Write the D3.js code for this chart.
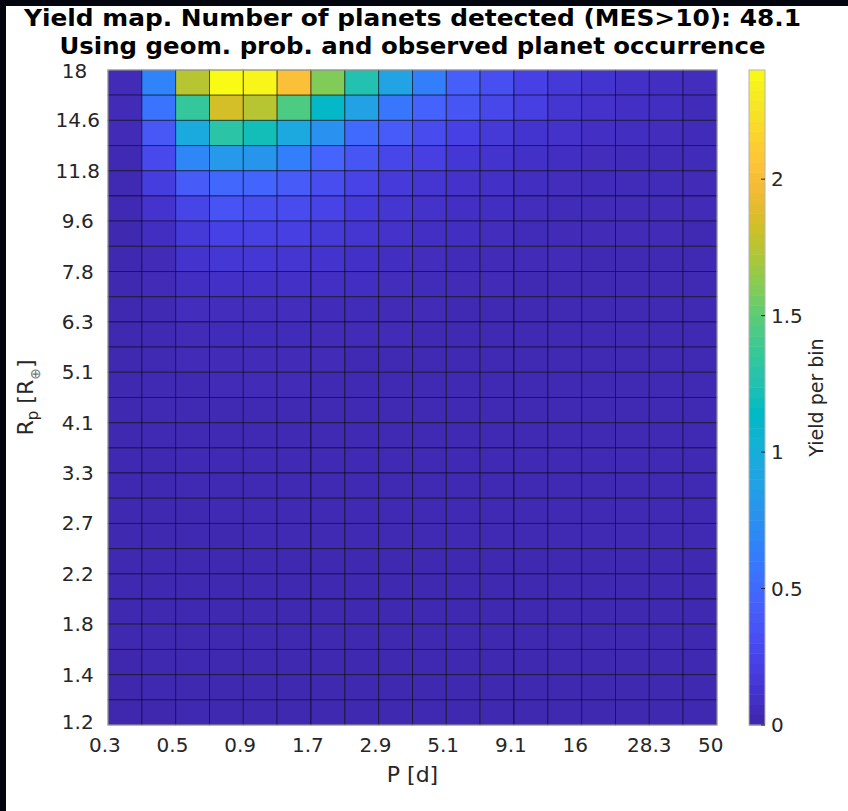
<!DOCTYPE html>
<html>
<head>
<meta charset="utf-8">
<script src="https://cdn.jsdelivr.net/npm/d3@7"></script>
<style>
  body { margin: 0; background: #03050f; }
  svg { display: block; }
</style>
</head>
<body>
<div id="chart"></div>
<script>
// tick labels (bin edges), P in days and Rp in Earth radii
const periodTicks = ['0.3', '0.5', '0.9', '1.7', '2.9', '5.1', '9.1', '16', '28.3', '50'];
const radiusTicks = ['18', '14.6', '11.8', '9.6', '7.8', '6.3', '5.1', '4.1', '3.3', '2.7', '2.2', '1.8', '1.4', '1.2'];
const colorTicks = [0, 0.5, 1, 1.5, 2];

// yield per bin, top row (largest Rp) first, columns from short to long period
const yieldRows = [
  [0.05, 0.66, 1.75, 2.40, 2.36, 2.03, 1.60, 1.25, 0.90, 0.63, 0.43, 0.32, 0.23, 0.17, 0.13, 0.10, 0.08, 0.07],
  [0.05, 0.56, 1.35, 1.84, 1.75, 1.45, 1.12, 0.88, 0.58, 0.45, 0.36, 0.27, 0.21, 0.14, 0.11, 0.09, 0.08, 0.06],
  [0.05, 0.38, 0.96, 1.30, 1.20, 0.95, 0.76, 0.50, 0.40, 0.30, 0.23, 0.17, 0.13, 0.11, 0.09, 0.08, 0.07, 0.06],
  [0.04, 0.28, 0.68, 0.82, 0.79, 0.63, 0.46, 0.36, 0.26, 0.21, 0.15, 0.12, 0.10, 0.08, 0.07, 0.06, 0.06, 0.06],
  [0.04, 0.20, 0.40, 0.48, 0.47, 0.40, 0.31, 0.24, 0.18, 0.14, 0.11, 0.10, 0.08, 0.07, 0.06, 0.06, 0.06, 0.05],
  [0.04, 0.12, 0.25, 0.35, 0.31, 0.30, 0.24, 0.18, 0.14, 0.11, 0.09, 0.08, 0.07, 0.06, 0.05, 0.05, 0.05, 0.05],
  [0.03, 0.08, 0.17, 0.23, 0.22, 0.21, 0.17, 0.14, 0.11, 0.09, 0.08, 0.07, 0.06, 0.05, 0.05, 0.05, 0.05, 0.04],
  [0.03, 0.05, 0.12, 0.15, 0.15, 0.14, 0.12, 0.10, 0.08, 0.07, 0.06, 0.05, 0.05, 0.05, 0.04, 0.04, 0.04, 0.04],
  [0.03, 0.05, 0.08, 0.10, 0.10, 0.10, 0.09, 0.08, 0.07, 0.06, 0.05, 0.05, 0.04, 0.04, 0.04, 0.04, 0.04, 0.04],
  [0.03, 0.04, 0.07, 0.07, 0.07, 0.07, 0.06, 0.06, 0.05, 0.05, 0.04, 0.04, 0.04, 0.04, 0.04, 0.04, 0.04, 0.04],
  [0.03, 0.04, 0.05, 0.06, 0.06, 0.06, 0.05, 0.05, 0.05, 0.04, 0.04, 0.04, 0.04, 0.04, 0.04, 0.04, 0.04, 0.04],
  [0.03, 0.04, 0.05, 0.05, 0.05, 0.05, 0.05, 0.04, 0.04, 0.04, 0.04, 0.04, 0.04, 0.04, 0.04, 0.04, 0.04, 0.04],
  [0.03, 0.04, 0.04, 0.05, 0.05, 0.05, 0.04, 0.04, 0.04, 0.04, 0.04, 0.04, 0.04, 0.04, 0.04, 0.04, 0.04, 0.04],
  [0.03, 0.04, 0.04, 0.04, 0.04, 0.04, 0.04, 0.04, 0.04, 0.04, 0.04, 0.04, 0.04, 0.04, 0.04, 0.04, 0.04, 0.04],
  [0.03, 0.04, 0.04, 0.04, 0.04, 0.04, 0.04, 0.04, 0.04, 0.04, 0.04, 0.04, 0.04, 0.04, 0.04, 0.04, 0.04, 0.04],
  [0.03, 0.03, 0.04, 0.04, 0.04, 0.04, 0.04, 0.04, 0.04, 0.04, 0.04, 0.04, 0.04, 0.04, 0.04, 0.04, 0.04, 0.04],
  [0.03, 0.03, 0.04, 0.04, 0.04, 0.04, 0.04, 0.04, 0.04, 0.04, 0.04, 0.04, 0.04, 0.04, 0.04, 0.04, 0.04, 0.04],
  [0.03, 0.03, 0.03, 0.04, 0.04, 0.04, 0.04, 0.04, 0.04, 0.04, 0.04, 0.04, 0.04, 0.04, 0.04, 0.04, 0.04, 0.04],
  [0.03, 0.03, 0.03, 0.03, 0.04, 0.04, 0.04, 0.04, 0.04, 0.04, 0.04, 0.04, 0.04, 0.04, 0.04, 0.04, 0.04, 0.04],
  [0.03, 0.03, 0.03, 0.03, 0.03, 0.03, 0.03, 0.03, 0.03, 0.03, 0.03, 0.03, 0.03, 0.03, 0.03, 0.03, 0.03, 0.03],
  [0.03, 0.03, 0.03, 0.03, 0.03, 0.03, 0.03, 0.03, 0.03, 0.03, 0.03, 0.03, 0.03, 0.03, 0.03, 0.03, 0.03, 0.03],
  [0.03, 0.03, 0.03, 0.03, 0.03, 0.03, 0.03, 0.03, 0.03, 0.03, 0.03, 0.03, 0.03, 0.03, 0.03, 0.03, 0.03, 0.03],
  [0.03, 0.03, 0.03, 0.03, 0.03, 0.03, 0.03, 0.03, 0.03, 0.03, 0.03, 0.03, 0.03, 0.03, 0.03, 0.03, 0.03, 0.03],
  [0.02, 0.03, 0.03, 0.03, 0.03, 0.03, 0.03, 0.03, 0.03, 0.03, 0.03, 0.03, 0.03, 0.03, 0.03, 0.03, 0.03, 0.03],
  [0.02, 0.03, 0.03, 0.03, 0.03, 0.03, 0.03, 0.03, 0.03, 0.03, 0.03, 0.03, 0.03, 0.03, 0.03, 0.03, 0.03, 0.03],
  [0.02, 0.02, 0.03, 0.03, 0.03, 0.03, 0.03, 0.03, 0.03, 0.03, 0.03, 0.03, 0.03, 0.03, 0.03, 0.03, 0.03, 0.03]
];

// matlab parula, sampled every 3rd entry of the 64-colour map
const parula = ['#3e26a8', '#4432cb', '#4741e5', '#4852f4', '#4563fd', '#3875fe', '#2e87f7', '#2796eb',
  '#20a5e3', '#12b1d6', '#02bac3', '#24c1af', '#37c897', '#57cc7a', '#81cc59', '#abc739',
  '#d1bf27', '#efba36', '#fec338', '#fad62d', '#f5e924', '#f9fb15'];

const width = 848,
    height = 811,
    plot = {left: 108, right: 717, top: 70, bottom: 725},
    cbar = {x: 749, w: 16},
    font = '"DejaVu Sans", sans-serif',
    textColor = '#262626';

const nCols = yieldRows[0].length,
    nRows = yieldRows.length;

const cells = [];
yieldRows.forEach((row, r) => row.forEach((v, c) => cells.push({r, c, v})));

const x = d3.scaleBand().domain(d3.range(nCols)).range([plot.left, plot.right]).paddingInner(0),
    y = d3.scaleBand().domain(d3.range(nRows)).range([plot.top, plot.bottom]).paddingInner(0),
    vmax = d3.max(cells, d => d.v),
    color = d3.scaleSequential(d3.piecewise(d3.interpolateRgb, parula)).domain([0, vmax]),
    cy = d3.scaleLinear().domain([0, vmax]).range([plot.bottom, plot.top]);

const svg = d3.select('#chart')
    .append('svg')
    .attr('width', width)
    .attr('height', height)
    .style('font-family', font);

// figure background (dark slide edge on top / left)
svg.append('rect')
    .attr('x', 6).attr('y', 6)
    .attr('width', width - 6).attr('height', height - 6)
    .attr('fill', '#fff');

// cells
svg.append('g')
    .selectAll('rect')
    .data(cells)
    .join('rect')
    .attr('x', d => x(d.c))
    .attr('y', d => y(d.r))
    .attr('width', x.bandwidth())
    .attr('height', y.bandwidth())
    .attr('fill', d => color(d.v))
    .attr('stroke', '#000')
    .attr('stroke-opacity', 0.55)
    .attr('stroke-width', 1);

svg.append('rect')
    .attr('x', plot.left).attr('y', plot.top)
    .attr('width', plot.right - plot.left).attr('height', plot.bottom - plot.top)
    .attr('fill', 'none')
    .attr('stroke', '#b4b4b4')
    .attr('stroke-width', 1);

// x tick labels sit on every second bin edge; matlab pads them to 4 chars
const xEdge = i => plot.left + i * 2 * x.bandwidth();
svg.append('g')
    .attr('font-size', 20)
    .attr('fill', textColor)
    .attr('text-anchor', 'middle')
    .selectAll('text')
    .data(periodTicks)
    .join('text')
    .attr('x', (d, i) => xEdge(i))
    .attr('y', plot.bottom + 27)
    .text(d => d.padEnd(4, '\u00a0'));

const yEdge = i => plot.top + i * 2 * y.bandwidth();
svg.append('g')
    .attr('font-size', 20)
    .attr('fill', textColor)
    .attr('text-anchor', 'end')
    .selectAll('text')
    .data(radiusTicks)
    .join('text')
    .attr('x', 100)
    .attr('y', (d, i) => yEdge(i) - (i === radiusTicks.length - 1 ? 3 : 0) + (i === 0 ? 1 : 0))
    .attr('dy', '0.35em')
    .text(d => d.padEnd(4, '\u00a0'));

// axis labels
svg.append('text')
    .attr('x', (plot.left + plot.right) / 2)
    .attr('y', 782)
    .attr('text-anchor', 'middle')
    .attr('font-size', 22)
    .attr('fill', textColor)
    .text('P [d]');

const yl = svg.append('text')
    .attr('transform', `translate(33,${(plot.top + plot.bottom) / 2}) rotate(-90)`)
    .attr('text-anchor', 'middle')
    .attr('font-size', 22)
    .attr('fill', textColor);
yl.append('tspan').text('R');
yl.append('tspan').attr('font-size', 15).attr('dy', 5).text('p');
yl.append('tspan').attr('dy', -5).text(' [R');
yl.append('tspan').attr('font-size', 14).attr('dy', 7).attr('fill', '#777').text('\u2295');
yl.append('tspan').attr('dy', -7).text(']');

// title
const titleLines = ['Yield map. Number of planets detected (MES>10): 48.1',
    'Using geom. prob. and observed planet occurrence'];
const titleWidths = [777, 706];
svg.append('g')
    .attr('font-size', 23)
    .attr('font-weight', 'bold')
    .attr('fill', '#000')
    .attr('text-anchor', 'middle')
    .selectAll('text')
    .data(titleLines)
    .join('text')
    .attr('x', (plot.left + plot.right) / 2)
    .attr('y', (d, i) => 26 + i * 28)
    .attr('textLength', (d, i) => titleWidths[i])
    .attr('lengthAdjust', 'spacingAndGlyphs')
    .text(d => d);

// colorbar
const steps = d3.range(64).map(i => i * vmax / 64);
svg.append('g')
    .selectAll('rect')
    .data(steps)
    .join('rect')
    .attr('x', cbar.x)
    .attr('y', d => cy(d + vmax / 64))
    .attr('width', cbar.w)
    .attr('height', d => cy(d) - cy(d + vmax / 64) + 0.5)
    .attr('fill', d => color(d + vmax / 128));

svg.append('rect')
    .attr('x', cbar.x).attr('y', plot.top)
    .attr('width', cbar.w).attr('height', plot.bottom - plot.top)
    .attr('fill', 'none')
    .attr('stroke', '#b4b4b4');

const cTicks = svg.append('g')
    .selectAll('g')
    .data(colorTicks)
    .join('g')
    .attr('transform', d => `translate(0,${cy(d)})`);
cTicks.append('line')
    .attr('x1', cbar.x + cbar.w - 4)
    .attr('x2', cbar.x + cbar.w)
    .attr('stroke', textColor);
cTicks.append('text')
    .attr('x', cbar.x + cbar.w + 6)
    .attr('dy', '0.35em')
    .attr('font-size', 20)
    .attr('fill', textColor)
    .text(d => d);

svg.append('text')
    .attr('transform', `translate(823,${(plot.top + plot.bottom) / 2}) rotate(-90)`)
    .attr('text-anchor', 'middle')
    .attr('font-size', 19)
    .attr('fill', textColor)
    .text('Yield per bin');
</script>
</body>
</html>
